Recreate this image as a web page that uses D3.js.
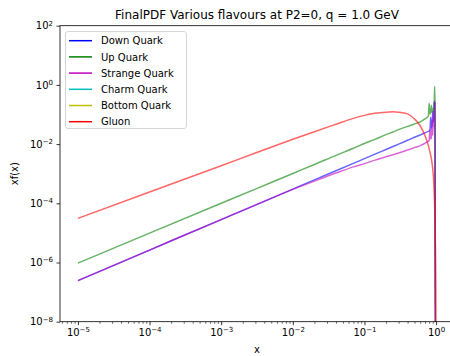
<!DOCTYPE html>
<html>
<head>
<meta charset="utf-8">
<script src="https://cdn.jsdelivr.net/npm/d3@7"></script>
<style>
  body { margin: 0; background: #fff; }
  svg { font-family: "DejaVu Sans", sans-serif; display: block; }
</style>
</head>
<body>
<div id="chart"></div>
<script>
// Chart data.
const xGrid = [1e-5, 1e-4, 1e-3, 3e-3, 1e-2, 0.02, 0.04, 0.07, 0.1, 0.14, 0.2, 0.25, 0.3, 0.4,
  0.5, 0.6, 0.7, 0.78, 0.80, 0.82, 0.84, 0.86, 0.88, 0.90, 0.92, 0.94, 0.955, 0.965, 0.975, 0.99, 1.0];

const downQuark = [2.45e-7, 2.63e-6, 2.82e-5, 8.7e-5, 3.02e-4, 6.2e-4, 1.26e-3, 2.24e-3, 3.24e-3,
  4.57e-3, 6.6e-3, 8.3e-3, 1.0e-2, 1.35e-2, 1.70e-2, 2.04e-2, 2.40e-2, 2.69e-2, 2.75e-2, 2.82e-2,
  7.9e-2, 3.5e-2, 4.5e-2, 0.126, 5.6e-2, 0.25, 0.275, 0.2, 1e-9, 1e-9, 1e-9];
const upQuark = [9.5e-7, 9.8e-6, 1.0e-4, 3.02e-4, 1.02e-3, 2.04e-3, 4.17e-3, 7.24e-3, 1.05e-2,
  1.45e-2, 2.09e-2, 2.57e-2, 3.09e-2, 3.98e-2, 4.79e-2, 5.62e-2, 7.08e-2, 8.9e-2, 0.24, 0.105,
  0.112, 0.2, 0.12, 0.141, 0.158, 0.178, 0.89, 0.25, 1e-9, 1e-9, 1e-9];
const strangeQuark = [2.45e-7, 2.63e-6, 2.82e-5, 8.7e-5, 2.95e-4, 5.6e-4, 1.05e-3, 1.70e-3, 2.19e-3,
  2.88e-3, 3.72e-3, 4.37e-3, 5.0e-3, 6.3e-3, 7.6e-3, 8.9e-3, 1.07e-2, 1.26e-2, 1.32e-2, 3.16e-2,
  1.5e-2, 1.7e-2, 6.3e-2, 2.0e-2, 0.126, 4.0e-2, 0.25, 0.275, 1e-9, 1e-9, 1e-9];
const charmQuark = xGrid.map(() => 0);   // zero everywhere: nothing drawn on a log axis
const bottomQuark = xGrid.map(() => 0);
const gluon = [3.09e-5, 2.40e-4, 1.86e-3, 5.0e-3, 1.45e-2, 2.63e-2, 4.68e-2, 7.41e-2, 9.33e-2,
  0.110, 0.120, 0.123, 0.120, 0.105, 0.0708, 0.0417, 0.0191, 8.9e-3, 7.1e-3, 5.4e-3, 4.2e-3,
  3.2e-3, 2.2e-3, 1.4e-3, 7.1e-4, 2.5e-4, 7.9e-5, 2.5e-5, 6.3e-6, 3.2e-7, 1e-9];

const seriesNames = ["Down Quark", "Up Quark", "Strange Quark", "Charm Quark", "Bottom Quark", "Gluon"];
const seriesValues = [downQuark, upQuark, strangeQuark, charmQuark, bottomQuark, gluon];
const seriesColors = ["#0000ff", "#008000", "#bf00bf", "#00bfbf", "#bfbf00", "#ff0000"];

const xTickExps = [-5, -4, -3, -2, -1, 0];
const yTickExps = [2, 0, -2, -4, -6, -8];

// Dimensions.
const width = 450;
const height = 356;
const marginLeft = 60;
const plotRight = 454;   // the reference is cropped on the right
const marginTop = 25.7;
const plotBottom = 321.7;

const x = d3.scaleLog()
    .domain([Math.pow(10, -5.25), Math.pow(10, 0.25)])
    .range([marginLeft, plotRight]);

const y = d3.scaleLog()
    .domain([1e-8, 1e2])
    .range([plotBottom, marginTop]);

const svg = d3.create("svg")
    .attr("width", width)
    .attr("height", height);

svg.append("defs").append("clipPath")
    .attr("id", "plot-clip")
  .append("rect")
    .attr("x", marginLeft)
    .attr("y", marginTop)
    .attr("width", plotRight - marginLeft)
    .attr("height", plotBottom - marginTop);

// Lines.
const line = d3.line()
    .defined(d => d[1] > 0)
    .curve(d3.curveMonotoneX)
    .x(d => x(d[0]))
    .y(d => y(d[1]));

svg.append("g")
    .attr("clip-path", "url(#plot-clip)")
  .selectAll("path")
  .data(seriesValues)
  .join("path")
    .attr("d", vals => line(vals.map((v, i) => [xGrid[i], v])))
    .attr("fill", "none")
    .attr("stroke", (d, i) => seriesColors[i])
    .attr("stroke-width", 1.5)
    .attr("stroke-opacity", 0.6)
    .attr("stroke-linejoin", "round");

// Helper for "10^n" labels.
function powLabel(sel, e) {
  sel.text("");
  sel.append("tspan").text("10");
  sel.append("tspan")
      .attr("dy", "-0.55em")
      .attr("font-size", "7px")
      .text(String(e).replace("-", "\u2212"));
}

// x-axis.
const minorX = [];
for (let e = -6; e <= 0; e++) {
  for (let k = 2; k <= 9; k++) {
    const v = k * Math.pow(10, e);
    if (v >= x.domain()[0] && v <= x.domain()[1]) minorX.push(v);
  }
}

const gx = svg.append("g")
    .attr("transform", `translate(0,${plotBottom})`);

gx.append("g")
    .call(d3.axisBottom(x).tickValues(minorX).tickSize(2).tickFormat(""))
    .call(g => g.select(".domain").remove())
    .call(g => g.selectAll("line").attr("stroke-width", 0.6));

gx.append("g")
    .call(d3.axisBottom(x).tickValues(xTickExps.map(e => Math.pow(10, e))).tickSize(3.5).tickPadding(3.5))
    .call(g => g.select(".domain").remove())
    .call(g => g.selectAll("line").attr("stroke-width", 0.8))
    .call(g => g.selectAll("text")
        .attr("font-size", "10px")
        .attr("font-family", "DejaVu Sans")
        .attr("fill", "#000")
        .each(function(d) { powLabel(d3.select(this), Math.round(Math.log10(d))); }));

// y-axis.
svg.append("g")
    .attr("transform", `translate(${marginLeft},0)`)
    .call(d3.axisLeft(y).tickValues(yTickExps.map(e => Math.pow(10, e))).tickSize(3.5).tickPadding(3.5))
    .call(g => g.select(".domain").remove())
    .call(g => g.selectAll("line").attr("stroke-width", 0.8))
    .call(g => g.selectAll("text")
        .attr("font-size", "10px")
        .attr("font-family", "DejaVu Sans")
        .attr("fill", "#000")
        .each(function(d) { powLabel(d3.select(this), Math.round(Math.log10(d))); }));

// Spines.
svg.append("rect")
    .attr("x", marginLeft)
    .attr("y", marginTop)
    .attr("width", plotRight - marginLeft)
    .attr("height", plotBottom - marginTop)
    .attr("fill", "none")
    .attr("stroke", "#000")
    .attr("stroke-width", 0.8);

// Title and axis labels.
svg.append("text")
    .attr("x", (marginLeft + plotRight) / 2)
    .attr("y", 19)
    .attr("text-anchor", "middle")
    .attr("font-size", "12px")
    .text("FinalPDF Various flavours at P2=0, q = 1.0 GeV");

svg.append("text")
    .attr("x", (marginLeft + plotRight) / 2)
    .attr("y", 353)
    .attr("text-anchor", "middle")
    .attr("font-size", "10px")
    .text("x");

svg.append("text")
    .attr("transform", `translate(18,${(marginTop + plotBottom) / 2}) rotate(-90)`)
    .attr("text-anchor", "middle")
    .attr("font-size", "10px")
    .text("xf(x)");

// Legend.
const legend = svg.append("g");
legend.append("rect")
    .attr("x", 65.5)
    .attr("y", 31.5)
    .attr("width", 121)
    .attr("height", 97)
    .attr("rx", 2.5)
    .attr("fill", "#fff")
    .attr("fill-opacity", 0.8)
    .attr("stroke", "#cccccc")
    .attr("stroke-width", 0.8);

const rows = legend.selectAll("g.row")
  .data(seriesNames)
  .join("g")
    .attr("class", "row")
    .attr("transform", (d, i) => `translate(0,${40.7 + i * 16.2})`);

rows.append("line")
    .attr("x1", 69)
    .attr("x2", 92)
    .attr("stroke", (d, i) => seriesColors[i])
    .attr("stroke-width", 1.5);

rows.append("text")
    .attr("x", 101)
    .attr("y", 3.6)
    .attr("font-size", "10px")
    .text(d => d);

d3.select("#chart").append(() => svg.node());
</script>
</body>
</html>
